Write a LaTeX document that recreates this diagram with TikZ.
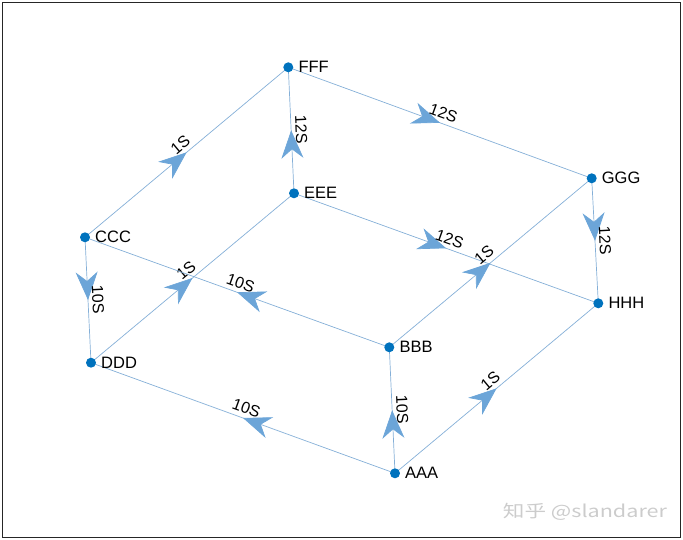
\documentclass[tikz,border=0pt]{standalone}
\usepackage{fontspec}
\setmainfont{Liberation Sans}
\newfontfamily\cjkfont{Noto Sans CJK SC}
\usetikzlibrary{arrows.meta,decorations.markings}
\definecolor{dotblue}{RGB}{0,114,189}
\definecolor{edgeblue}{RGB}{132,175,215}
\definecolor{arrowblue}{RGB}{108,165,216}
\definecolor{framegray}{RGB}{38,38,38}
\begin{document}
\begin{tikzpicture}[x=1pt,y=-1pt,
 vert/.style={circle,fill=dotblue,inner sep=0pt,minimum size=10pt},
 vlbl/.style={font=\fontsize{16.5}{19}\selectfont,inner sep=0pt,anchor=west},
 conn/.style={draw=edgeblue,line width=0.7pt,postaction={decorate},
   decoration={markings,mark=at position 0.5 with {\arrow[arrowblue]{Stealth[length=28pt,width=22pt,inset=9pt]}}}},
 elbl/.style={midway,sloped,above,inner sep=4pt,font=\fontsize{16}{19}\selectfont}
]
\useasboundingbox (0,0) rectangle (683,540);
\draw[framegray,line width=1pt] (2.5,2.5) rectangle (680.5,537);

\coordinate (pF) at (288.3,67.3);
\coordinate (pE) at (294,193.3);
\coordinate (pC) at (85,237.3);
\coordinate (pG) at (591.7,178.3);
\coordinate (pH) at (598.3,303.3);
\coordinate (pB) at (389.3,347.3);
\coordinate (pD) at (91,362.7);
\coordinate (pA) at (395,473.3);

\draw[conn] (pC) -- node[elbl]{1S} (pF);
\draw[conn] (pE) -- node[elbl]{12S} (pF);
\draw[conn] (pF) -- node[elbl]{12S} (pG);
\draw[conn] (pG) -- node[elbl]{12S} (pH);
\draw[conn] (pE) -- node[elbl]{12S} (pH);
\draw[conn] (pB) -- node[elbl]{1S} (pG);
\draw[conn] (pC) -- node[elbl]{10S} (pD);
\draw[conn] (pD) -- node[elbl]{1S} (pE);
\draw[conn] (pB) -- node[elbl]{10S} (pC);
\draw[conn] (pA) -- node[elbl]{10S} (pB);
\draw[conn] (pA) -- node[elbl]{10S} (pD);
\draw[conn] (pA) -- node[elbl]{1S} (pH);

\foreach \n/\t in {F/FFF,E/EEE,C/CCC,G/GGG,H/HHH,B/BBB,D/DDD,A/AAA}{
  \node[vert] (\n) at (p\n) {};
  \node[vlbl] (l\n) at ([xshift=10pt]p\n) {\t};
}

\node[text=black!20,inner sep=0pt] (wm) at (585,512)
  {\scalebox{1.27}[1]{\fontsize{17}{20}\cjkfont 知乎 @slandarer}};
\end{tikzpicture}
\end{document}
